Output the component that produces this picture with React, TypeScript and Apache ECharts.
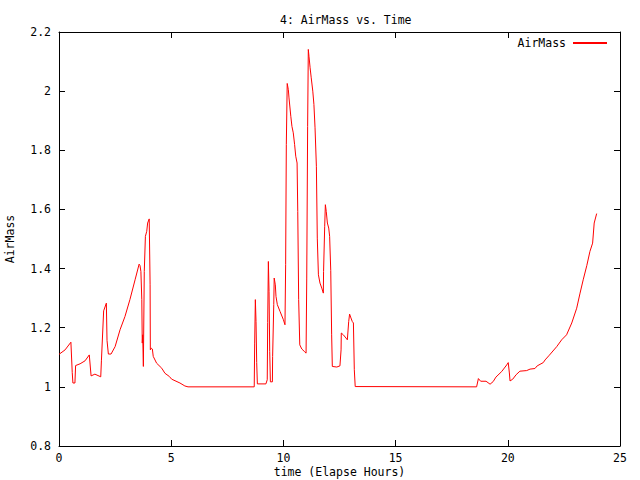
import React, { useEffect, useRef } from "react";
import * as echarts from "echarts";

const times: number[] = [
  0, 0.27, 0.53, 0.59, 0.62, 0.71, 0.74, 0.94, 1.16, 1.35, 1.43, 1.6, 1.86, 1.89, 1.99, 2.11, 2.14, 2.2, 2.32, 2.5,
  2.72, 2.94, 3.16, 3.39, 3.57, 3.61, 3.65, 3.69, 3.71, 3.73, 3.76, 3.8, 3.85, 3.91, 3.95, 4.02, 4.06, 4.07, 4.11, 4.16,
  4.2, 4.35, 4.58, 4.72, 4.92, 5.02, 5.39, 5.61, 5.75, 8.7, 8.72, 8.75, 8.78, 8.81, 8.84, 9.22, 9.28, 9.3, 9.33, 9.36,
  9.39, 9.42, 9.51, 9.52, 9.57, 9.59, 9.64, 9.67, 9.73, 9.85, 10.0, 10.07, 10.1, 10.13, 10.17, 10.22, 10.25, 10.33, 10.38, 10.44,
  10.5, 10.55, 10.61, 10.64, 10.68, 10.73, 10.82, 10.93, 11.01, 11.04, 11.08, 11.11, 11.14, 11.19, 11.24, 11.31, 11.36, 11.41, 11.47, 11.51,
  11.56, 11.63, 11.71, 11.78, 11.79, 11.84, 11.87, 11.91, 11.96, 12.02, 12.06, 12.11, 12.15, 12.18, 12.38, 12.52, 12.57, 12.58, 12.67, 12.79,
  12.85, 12.91, 12.95, 13.01, 13.07, 13.12, 13.16, 13.2, 18.61, 18.69, 18.79, 19.03, 19.12, 19.21, 19.35, 19.47, 19.73, 19.95, 20.02, 20.07,
  20.1, 20.22, 20.37, 20.54, 20.84, 20.99, 21.21, 21.31, 21.58, 21.66, 21.85, 22.18, 22.4, 22.62, 22.85, 23.07, 23.22, 23.36, 23.52, 23.66,
  23.78, 23.85, 23.96,
];

const airmass: number[] = [
  1.11, 1.125, 1.151, 1.048, 1.013, 1.013, 1.072, 1.078, 1.088, 1.108, 1.037, 1.043, 1.034, 1.088, 1.257, 1.283, 1.157, 1.111, 1.111, 1.136,
  1.193, 1.238, 1.295, 1.362, 1.415, 1.41, 1.39, 1.295, 1.148, 1.176, 1.069, 1.39, 1.509, 1.526, 1.554, 1.568, 1.345, 1.125, 1.131, 1.128,
  1.103, 1.08, 1.063, 1.046, 1.035, 1.026, 1.013, 1.003, 1.0, 1.0, 1.148, 1.295, 1.221, 1.082, 1.01, 1.01, 1.024, 1.218, 1.424, 1.323,
  1.12, 1.017, 1.017, 1.103, 1.278, 1.368, 1.345, 1.306, 1.278, 1.255, 1.227, 1.21, 1.413, 1.819, 2.026, 2.005, 1.977, 1.915, 1.881, 1.859,
  1.819, 1.78, 1.757, 1.593, 1.295, 1.142, 1.128, 1.12, 1.114, 1.368, 1.881, 2.141, 2.118, 2.079, 2.045, 2.0, 1.955, 1.876, 1.746, 1.503,
  1.379, 1.351, 1.334, 1.317, 1.39, 1.543, 1.616, 1.593, 1.554, 1.537, 1.509, 1.394, 1.176, 1.069, 1.067, 1.071, 1.125, 1.182, 1.176, 1.165,
  1.159, 1.221, 1.246, 1.233, 1.221, 1.216, 1.058, 1.001, 1.0, 1.028, 1.019, 1.019, 1.014, 1.009, 1.018, 1.033, 1.052, 1.074, 1.082, 1.047,
  1.02, 1.026, 1.041, 1.053, 1.055, 1.06, 1.062, 1.071, 1.082, 1.091, 1.107, 1.136, 1.159, 1.176, 1.216, 1.266, 1.317, 1.362, 1.41, 1.458,
  1.486, 1.554, 1.586,
];

const seriesName = "AirMass";
const chartTitle = "4: AirMass vs. Time";
const xAxisName = "time (Elapse Hours)";
const yAxisName = "AirMass";

const FONT = "DejaVu Sans Mono";
const FS = 11.5;

export default function App() {
  const ref = useRef<HTMLDivElement>(null);
  useEffect(() => {
    if (!ref.current) return;
    const chart = echarts.init(ref.current, undefined, { renderer: "svg" });
    const data = times.map((t, i) => [t, airmass[i]]);
    const axisCommon = {
      type: "value" as const,
      axisLine: { show: true, onZero: false, lineStyle: { color: "#000", width: 1 } },
      axisTick: { show: true, inside: true, length: 6, lineStyle: { color: "#000", width: 1 } },
      splitLine: { show: false },
    };
    chart.setOption({
      animation: false,
      backgroundColor: "#fff",
      title: {
        text: chartTitle,
        left: 275,
        top: 9,
        textStyle: { fontFamily: FONT, fontSize: FS, fontWeight: "normal", color: "#000" },
      },
      legend: {
        data: [{ name: seriesName, icon: "rect" }],
        right: 33,
        top: 37,
        padding: 0,
        align: "right",
        itemWidth: 34,
        itemHeight: 2,
        itemGap: 7,
        textStyle: { fontFamily: FONT, fontSize: FS, color: "#000", padding: [0, 2, 0, 0] },
      },
      grid: { left: 59, right: 20, top: 32, bottom: 34, show: false, containLabel: false, outerBoundsMode: "none" },
      xAxis: [
        {
          ...axisCommon,
          min: 0,
          max: 25,
          interval: 5,
          position: "bottom",
          name: xAxisName,
          nameLocation: "middle",
          nameGap: 20,
          nameMoveOverlap: false,
          nameTextStyle: { fontFamily: FONT, fontSize: FS, color: "#000", lineHeight: 12 },
          axisLabel: { color: "#000", fontFamily: FONT, fontSize: FS, margin: 6, lineHeight: 12 },
        },
        {
          ...axisCommon,
          min: 0,
          max: 25,
          interval: 5,
          position: "top",
          axisLabel: { show: false },
        },
      ],
      yAxis: [
        {
          ...axisCommon,
          min: 0.8,
          max: 2.2,
          interval: 0.2,
          position: "left",
          name: yAxisName,
          nameLocation: "middle",
          nameGap: 43,
          nameMoveOverlap: false,
          nameRotate: 90,
          nameTextStyle: { fontFamily: FONT, fontSize: FS, color: "#000" },
          axisLabel: { color: "#000", fontFamily: FONT, fontSize: FS, margin: 8 },
        },
        {
          ...axisCommon,
          min: 0.8,
          max: 2.2,
          interval: 0.2,
          position: "right",
          axisLabel: { show: false },
        },
      ],
      series: [
        {
          name: seriesName,
          type: "line",
          data,
          xAxisIndex: 0,
          yAxisIndex: 0,
          showSymbol: false,
          symbol: "none",
          lineStyle: { color: "#ff0000", width: 1 },
          itemStyle: { color: "#ff0000" },
        },
      ],
    });
    return () => chart.dispose();
  }, []);
  return (
    <div
      ref={ref}
      style={{ position: "fixed", left: 0, top: 0, width: 640, height: 480, background: "#fff" }}
    />
  );
}
